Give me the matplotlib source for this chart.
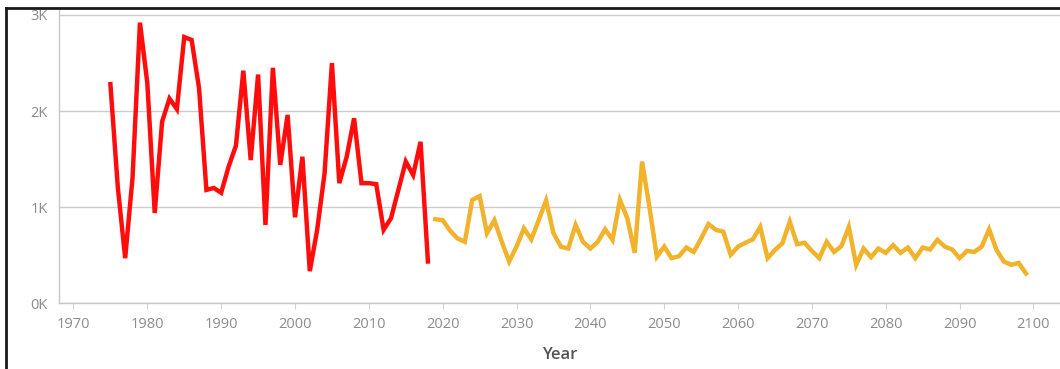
import matplotlib.pyplot as plt
from matplotlib.lines import Line2D
from matplotlib.ticker import FuncFormatter

# observed years and values
hist_years = list(range(1975, 2019))
hist_values = [2280, 1210, 470, 1310, 2920, 2290, 940, 1890, 2130, 2020,
               2770, 2740, 2240, 1180, 1200, 1150, 1420, 1640, 2420, 1490,
               2380, 815, 2450, 1440, 1960, 895, 1525, 335, 765, 1350,
               2500, 1250, 1525, 1925, 1250, 1250, 1240, 765, 885, 1180,
               1475, 1335, 1680, 435]

# projected years and values
proj_years = list(range(2019, 2100))
proj_values = [875, 865, 755, 675, 640, 1075, 1115, 730, 865, 640,
               435, 590, 780, 665, 865, 1070, 730, 590, 570, 815,
               640, 570, 640, 770, 660, 1075, 885, 525, 1475, 1000,
               485, 590, 470, 490, 580, 535, 675, 825, 765, 745,
               505, 590, 630, 665, 795, 470, 555, 625, 850, 615,
               630, 545, 470, 640, 535, 595, 795, 400, 570, 480,
               570, 525, 605, 525, 580, 470, 580, 560, 660, 590,
               560, 470, 545, 535, 590, 770, 555, 435, 400, 420, 310]

x_ticks = list(range(1970, 2101, 10))
y_ticks = [0, 1000, 2000, 3000]

fig = plt.figure(figsize=(10.6, 3.69), dpi=100)
ax = fig.add_axes([0.0554, 0.178, 0.9446, 0.795])

grid_col = "#cccccc"
for y in y_ticks:
    ax.axhline(y, color=grid_col, lw=1.0, zorder=1)

ax.plot(hist_years, hist_values, color="#ff0d0d", lw=3.2, zorder=3,
        solid_joinstyle="miter")
ax.plot(proj_years, proj_values, color="#f1b22c", lw=3.2, zorder=3,
        solid_joinstyle="miter")

ax.set_xlim(1968.0, 2103.6)
ax.set_ylim(0, 3052)
ax.set_xticks(x_ticks)
ax.set_yticks(y_ticks)
ax.yaxis.set_major_formatter(FuncFormatter(lambda v, p: f"{int(v / 1000)}K"))

for s in ["top", "right"]:
    ax.spines[s].set_visible(False)
for s in ["left", "bottom"]:
    ax.spines[s].set_color("#c8c8c8")
    ax.spines[s].set_linewidth(1.0)

ax.tick_params(axis="x", colors="#d0d0d0", length=4, width=0.8,
               labelcolor="#8c8c8c", labelsize=10.5, pad=6)
ax.tick_params(axis="y", length=0, labelcolor="#8c8c8c", labelsize=10.5, pad=8)
for lab in ax.get_xticklabels() + ax.get_yticklabels():
    lab.set_family("Open Sans")

ax.set_xlabel("Year", fontsize=12, color="#555555", fontweight="semibold",
              family="Open Sans", labelpad=11)

# frame of the original view (left and top edges only)
fig.add_artist(Line2D([6 / 1060, 6 / 1060], [0, 1 - 8 / 369],
                      transform=fig.transFigure, color="#1a1a1a", lw=2.0))
fig.add_artist(Line2D([6 / 1060, 1], [1 - 8 / 369, 1 - 8 / 369],
                      transform=fig.transFigure, color="#1a1a1a", lw=2.0))

fig.savefig("out.png", dpi=100)
